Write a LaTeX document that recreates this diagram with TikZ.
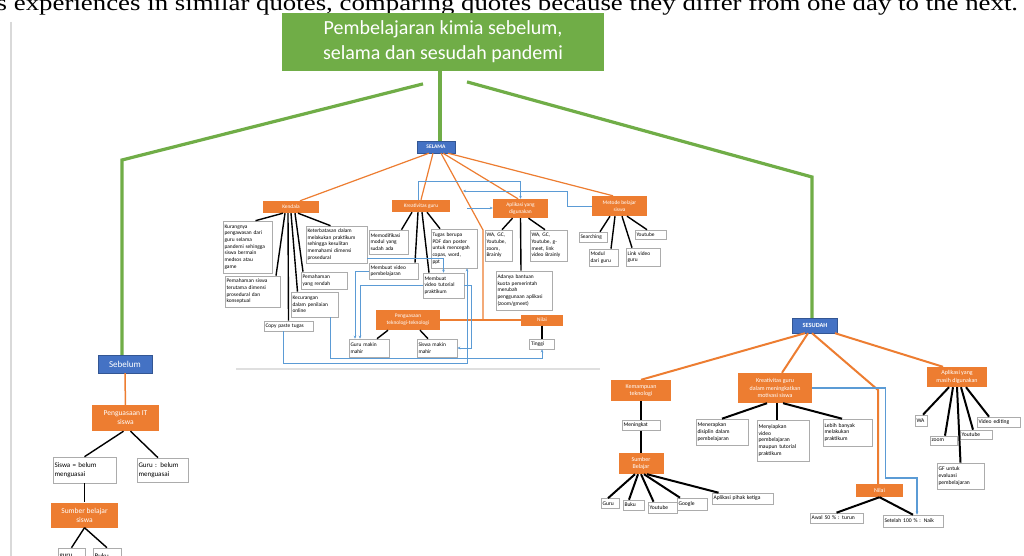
\documentclass[tikz,border=0pt]{standalone}
\usepackage{fontspec}
\setmainfont{Carlito}
\newfontfamily\bookfont{Liberation Serif}
\usetikzlibrary{positioning, arrows.meta}

\definecolor{titlegreen}{HTML}{70AD47}
\definecolor{phaseblue}{HTML}{4472C4}
\definecolor{topicorange}{HTML}{ED7D31}
\definecolor{cueblue}{HTML}{5B9BD5}

\newcommand\leaffont{\fontsize{5.4}{6.7}\selectfont}
\newcommand\afterfont{\fontsize{5.6}{6.9}\selectfont}
\newcommand\beforefont{\fontsize{7}{8.6}\selectfont}

\begin{document}
\begin{tikzpicture}[
    x=1pt, y=-1pt,
    >=Stealth,
    % Styles
    title/.style={ % green heading
        fill=titlegreen,
        text=white,
        align=center,
        font=\fontsize{20}{25}\selectfont,
        minimum width=322pt,
        minimum height=58pt
    },
    phase/.style={ % SELAMA, Sebelum, SESUDAH
        fill=phaseblue,
        draw=phaseblue!75!black,
        line width=0.4pt,
        text=white,
        inner sep=1pt
    },
    topic/.style={ % orange heading boxes
        fill=topicorange,
        text=white,
        align=center,
        inner sep=1pt,
        font=\leaffont
    },
    leaf/.style={ % white text boxes
        draw=gray!65,
        fill=white,
        line width=0.6pt,
        align=left,
        inner xsep=1.5pt,
        inner ysep=1pt,
        font=\leaffont
    },
    dims/.style 2 args={minimum width=#1pt, minimum height=#2pt},
    wrap/.style 2 args={text width=#1pt, minimum height=#2pt},
    arm/.style={titlegreen, line width=3.2pt},
    tie/.style={topicorange, line width=1.2pt},
    link/.style={black, line width=1.4pt},
    cue/.style={cueblue, line width=0.9pt, -{Stealth[length=3pt, width=2.6pt]}}
]

    \path[use as bounding box, fill=white] (0,0) rectangle (1024,556);

    % Page around the picture
    \node[anchor=base west, inner sep=0, transform shape, xscale=1.22, font=\bookfont\fontsize{22}{26}\selectfont] (quote) at (-3.5,10.5)
        {s experiences in similar quotes, comparing quotes because they differ from one day to the next.};
    \draw[gray!30, line width=1.5pt] (11,22) -- (11,556);
    \draw[gray!25, line width=1.5pt] (236,369) -- (600,369);

    % Heading
    \node[title] (title) at (443,41.7)
        {Pembelajaran kimia sebelum,\\selama dan sesudah pandemi};
    \node[phase, dims={38}{12}, font=\fontsize{5.5}{6}\selectfont\bfseries] (selama) at (436,147) {SELAMA};
    \node[phase, dims={54}{18}, font=\fontsize{9}{10}\selectfont] (sebelum) at (125,364) {Sebelum};
    \node[phase, dims={45}{15}, font=\fontsize{6.3}{7}\selectfont\bfseries] (sesudah) at (815,325.5) {SESUDAH};

    \coordinate (elbowleft) at (122,160);
    \coordinate (elbowright) at (812,177);
    \draw[arm] ([xshift=-3pt]title.south) -- ([xshift=-3pt]title.south |- selama.north);
    \draw[arm] ([xshift=-20pt, yshift=-13pt]title.south) -- (elbowleft) -- (elbowleft |- sebelum.north);
    \draw[arm] ([xshift=24pt, yshift=-11pt]title.south) -- (elbowright) -- (elbowright |- sesudah.north);

    % SELAMA
    \node[topic, dims={56}{12}] (kendala) at (291,207) {Kendala};
    \node[topic, dims={58}{12}] (kreatif) at (421,206) {Kreativitas guru};
    \node[topic, dims={55}{19}] (aplikasi) at (520.5,208.5) {Aplikasi yang\\digunakan};
    \node[topic, dims={55}{20}] (metode) at (619.5,206) {Metode belajar\\siswa};
    \node[topic, dims={64}{20}] (kuasatek) at (408,320) {Penguasaan\\teknologi-teknologi};
    \node[topic, dims={42}{11}] (nilaitengah) at (542,320) {Nilai};

    \node[leaf, wrap={46}{52}] (kurang) at (247.5,247)
        {Kurangnya\\pengawasan dari\\guru selama\\pandemi sehingga\\siswa bermain\\medsos atau\\game};
    \node[leaf, wrap={58}{37}] (terbatas) at (336.5,244.5)
        {Keterbatasan dalam\\melakukan praktikum\\sehingga kesulitan\\memahami dimensi\\prosedural};
    \node[leaf, wrap={52}{31}] (pahamsiswa) at (252.5,291.5)
        {Pemahaman siswa\\terutama dimensi\\prosedural dan\\konseptual};
    \node[leaf, wrap={43}{17}] (rendah) at (324,280.5) {Pemahaman\\yang rendah};
    \node[leaf, wrap={44}{25}] (curang) at (314.5,304.5) {Kecurangan\\dalam penilaian\\online};
    \node[leaf, wrap={46}{10}] (copas) at (288.5,326) {Copy paste tugas};
    \node[leaf, wrap={36}{24}] (modifikasi) at (388.5,242) {Memodifikasi\\modul yang\\sudah ada};
    \node[leaf, wrap={43}{39}] (tugaspdf) at (454,248.5)
        {Tugas berupa\\PDF dan poster\\untuk mencegah\\copas, word,\\ppt};
    \node[leaf, wrap={46}{16}] (videobelajar) at (393.5,271) {Membuat video\\pembelajaran};
    \node[leaf, wrap={38}{25}] (videotutor) at (443.5,285.5) {Membuat\\video tutorial\\praktikum};
    \node[leaf, wrap={37}{18}] (gurumahir) at (369,348) {Guru makin\\mahir};
    \node[leaf, wrap={37}{18}] (siswamahir) at (437,348) {Siswa makin\\mahir};
    \node[leaf, wrap={24}{31}] (aplsatu) at (498.5,245.5) {WA, GC,\\Youtube,\\zoom,\\Brainly};
    \node[leaf, wrap={34}{31}] (apldua) at (548.5,245.5) {WA, GC,\\Youtube, g-\\meet, link\\video Brainly};
    \node[leaf, wrap={53}{39}] (kuota) at (524,290.5)
        {Adanya bantuan\\kuota pemerintah\\merubah\\penggunaan aplikasi\\(zoom/gmeet)};
    \node[leaf, wrap={22}{10}, below=13pt of nilaitengah] (tinggi) {Tinggi};
    \node[leaf, wrap={25}{10}] (searching) at (593,237) {Searching};
    \node[leaf, wrap={28}{9}] (ytmetode) at (650.5,234.5) {Youtube};
    \node[leaf, wrap={26}{17}] (modulguru) at (603.5,257.5) {Modul\\dari guru};
    \node[leaf, wrap={31}{18}] (linkvideo) at (643,257) {Link video\\guru};

    % Orange ties from SELAMA
    \coordinate (hubtop) at (483,230);
    \draw[tie] ([xshift=-7pt]selama.south) -- ([xshift=9pt]kendala.north);
    \draw[tie] ([xshift=-3pt]selama.south) -- (kreatif.north);
    \draw[tie] ([xshift=5pt]selama.south) -- (hubtop) -- (hubtop |- kuasatek.east);
    \draw[tie] ([xshift=7pt]selama.south) -- ([xshift=-2.5pt]aplikasi.north);
    \draw[tie] ([xshift=12pt]selama.south) -- ([xshift=-6.5pt]metode.north);
    \draw[tie] (kuasatek.east) -- (nilaitengah.west);

    % Black links
    \foreach \dx/\child/\ex in {-8/kurang/8, -6/pahamsiswa/23.5, -3/copas/0, 0/curang/-17, 4/rendah/-21, 7/terbatas/-6} {
        \draw[link] ([xshift=\dx pt]kendala.south) -- ([xshift=\ex pt]\child.north);
    }
    \foreach \dx/\child/\ex in {-9/modifikasi/13, -3/videobelajar/21.5, 1/videotutor/-14.5, 6/tugaspdf/-14} {
        \draw[link] ([xshift=\dx pt]kreatif.south) -- ([xshift=\ex pt]\child.north);
    }
    \foreach \dx/\child/\ex in {-8/aplsatu/3.5, 0/kuota/-3, 8/apldua/-3.5} {
        \draw[link] ([xshift=\dx pt]aplikasi.south) -- ([xshift=\ex pt]\child.north);
    }
    \foreach \dx/\child/\ex in {-9.5/searching/7, -4.5/modulguru/7.5, 2.5/linkvideo/-11, 7.5/ytmetode/-3.5} {
        \draw[link] ([xshift=\dx pt]metode.south) -- ([xshift=\ex pt]\child.north);
    }
    \draw[link] ([xshift=-20pt]kuasatek.south) -- ([xshift=8pt]gurumahir.north);
    \draw[link] ([xshift=12pt]kuasatek.south) -- ([xshift=-9pt]siswamahir.north);
    \draw[link] (nilaitengah) -- (tinggi);

    % Blue cues
    \coordinate (metodetip) at (463,191);
    \coordinate (aplstart) at (467,208);
    \draw[cue] ([xshift=-3pt]kreatif.north) -- ++(0,-18) -| (aplikasi.north);
    \draw[cue] (metode.west) -- ++(-24,0) |- (metodetip);
    \draw[cue] (aplstart) -- (aplstart -| aplikasi.west);
    \draw[cue] ([yshift=5pt]terbatas.south east) -| (videotutor.north);
    \draw[cue] (videobelajar.west) -| ([xshift=-14pt]gurumahir.north);
    \draw[cue] (videotutor.west) -| ([xshift=-9pt]gurumahir.north);
    \draw[cue] (videotutor.east) -- ++(7,0) |- (siswamahir.east);
    \draw[cue] ([xshift=-5pt]copas.south) -- ++(0,32) -| ([xshift=13pt]tugaspdf.south);
    \draw[cue] ([xshift=15.5pt]curang.south) -- ++(0,41) -| (tinggi.south);

    % Sebelum
    \node[topic, dims={67}{26}, font=\fontsize{7.5}{9}\selectfont] (kuasait) at (125.5,418) {Penguasaan IT\\siswa};
    \node[leaf, wrap={60}{26}, font=\beforefont] (siswabelum) at (84.5,470) {Siswa = belum\\menguasai};
    \node[leaf, wrap={48}{24}, font=\beforefont] (gurubelum) at (162.5,470) {Guru : belum\\menguasai};
    \node[topic, dims={67}{25}, font=\fontsize{7.5}{9}\selectfont, below=19pt of siswabelum] (sumbersiswa) {Sumber belajar\\siswa};
    \node[leaf, wrap={24}{16}, font=\beforefont] (guruleaf) at (71.5,556) {guru};
    \node[leaf, wrap={25}{16}, font=\beforefont] (bukuleaf) at (107,556) {Buku};

    \draw[tie, line width=1.5pt] (sebelum) -- (kuasait);
    \draw[link] ([xshift=-2pt]kuasait.south) -- (siswabelum.north);
    \draw[link] ([xshift=5pt]kuasait.south) -- ([xshift=-4.5pt]gurubelum.north);
    \draw[link] (siswabelum.south) -- (siswabelum.south |- sumbersiswa.north);
    \draw[link] (sumbersiswa.south) -- (guruleaf.north);
    \draw[link] (sumbersiswa.south) -- (bukuleaf.north);

    % SESUDAH
    \node[topic, dims={60}{21}, font=\fontsize{6}{7.3}\selectfont] (mampu) at (641,390.5) {Kemampuan\\teknologi};
    \node[leaf, wrap={35}{10}, font=\afterfont, below=19pt of mampu] (meningkat) {Meningkat};
    \node[topic, dims={45}{21}, font=\fontsize{6}{7.3}\selectfont, below=22pt of meningkat] (sumberbelajar) {Sumber\\Belajar};
    \node[leaf, wrap={15}{10}, font=\afterfont] (sguru) at (610,503.5) {Guru};
    \node[leaf, wrap={18}{10}, font=\afterfont] (sbuku) at (633.5,505) {Buku};
    \node[leaf, wrap={26}{11}, font=\afterfont] (syt) at (662.5,507.5) {Youtube};
    \node[leaf, wrap={27}{12}, font=\afterfont] (sgoogle) at (692,504) {Google};
    \node[leaf, wrap={58}{11}, font=\afterfont] (spihak) at (742.5,498.5) {Aplikasi pihak ketiga};

    \node[topic, dims={74}{30}, font=\fontsize{6}{7.3}\selectfont] (kreatifsesudah) at (775,388)
        {Kreativitas guru\\dalam meningkatkan\\motivasi siswa};
    \node[leaf, wrap={49}{26}, font=\afterfont] (disiplin) at (722,432) {Menerapkan\\disiplin dalam\\pembelajaran};
    \node[leaf, wrap={49}{41}, font=\afterfont] (menyiapkan) at (783,440.5)
        {Menyiapkan\\video\\pembelajaran\\maupun tutorial\\praktikum};
    \node[leaf, wrap={46}{27}, font=\afterfont] (lebihbanyak) at (847.5,432.5) {Lebih banyak\\melakukan\\praktikum};

    \node[topic, dims={60}{20}, font=\fontsize{6}{7.3}\selectfont] (aplmasih) at (957,377) {Aplikasi yang\\masih digunakan};
    \node[leaf, wrap={9}{11}, font=\afterfont] (wa) at (921,420.5) {WA};
    \node[leaf, wrap={24}{9}, font=\afterfont] (zoom) at (943.5,440.5) {zoom};
    \node[leaf, wrap={29}{9}, font=\afterfont] (yt) at (976,434.5) {Youtube};
    \node[leaf, wrap={40}{10}, font=\afterfont] (videoedit) at (998.5,422) {Video editing};
    \node[leaf, wrap={44}{26}, font=\afterfont] (gf) at (960.5,476) {GF untuk\\evaluasi\\pembelajaran};

    \node[topic, dims={47}{13}, font=\fontsize{6}{7.3}\selectfont] (nilaiakhir) at (879.5,490.5) {Nilai};
    \node[leaf, wrap={50}{10}, font=\afterfont] (awal) at (836.5,518) {Awal 50 \% : turun};
    \node[leaf, wrap={57}{12}, font=\afterfont] (setelah) at (913,521) {Setelah 100 \% : Naik};

    % Orange ties from SESUDAH
    \coordinate (bendnilai) at (878,390);
    \draw[tie, line width=2pt] ([xshift=-10pt]sesudah.south) -- (mampu.north);
    \draw[tie, line width=2pt] ([xshift=-7pt]sesudah.south) -- ([xshift=7pt]kreatifsesudah.north);
    \draw[tie, line width=2pt] ([xshift=-3pt]sesudah.south) -- (bendnilai) -- (bendnilai |- nilaiakhir.north);
    \draw[tie, line width=2pt] ([xshift=20pt]sesudah.south) -- ([xshift=-14pt]aplmasih.north);

    % Black links after the pandemic
    \draw[link, line width=2pt] (mampu) -- (meningkat) -- (sumberbelajar);
    \foreach \dx/\child/\ex in {-6/sguru/-2, -3/sbuku/-4.5, 0/syt/-9, 3/sgoogle/-12, 6/spihak/-24} {
        \draw[link, line width=2pt] ([xshift=\dx pt]sumberbelajar.south) -- ([xshift=\ex pt]\child.north);
    }
    \foreach \dx/\child/\ex in {-8/disiplin/0, 2/menyiapkan/-6, 8/lebihbanyak/-5.5} {
        \draw[link, line width=2pt] ([xshift=\dx pt]kreatifsesudah.south) -- ([xshift=\ex pt]\child.north);
    }
    \foreach \dx/\child/\ex in {-8/wa/2, -4/zoom/1.5, 0/gf/0, 4/yt/-3, 9/videoedit/-9.5} {
        \draw[link, line width=2pt] ([xshift=\dx pt]aplmasih.south) -- ([xshift=\ex pt]\child.north);
    }
    \draw[link, line width=2pt] (nilaiakhir.south) -- (awal.north);
    \draw[link, line width=2pt] (nilaiakhir.south) -- (setelah.north);

    % Blue cue to the final value
    \draw[cue, line width=1.1pt] (kreatifsesudah.east) -- ++(73,0) -- ++(0,90) -| ([xshift=4pt]setelah.north);
\end{tikzpicture}
\end{document}
